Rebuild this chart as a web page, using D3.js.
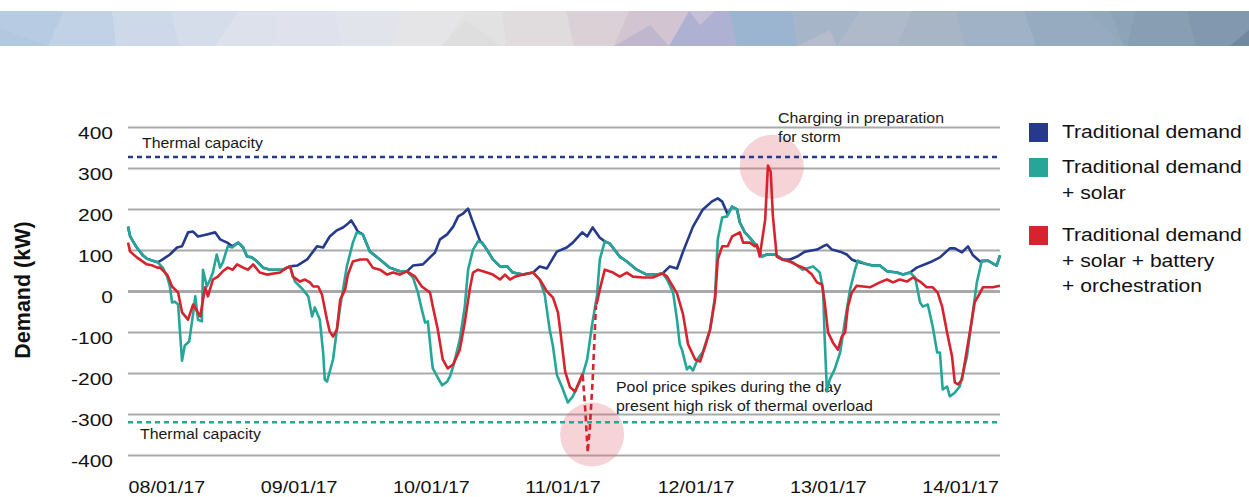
<!DOCTYPE html>
<html>
<head>
<meta charset="utf-8">
<script src="https://cdn.jsdelivr.net/npm/d3@7"></script>
<style>
  body { margin: 0; background: #fff; }
  svg { display: block; font-family: "Liberation Sans", Arial, sans-serif; }
</style>
</head>
<body>
<div id="chart"></div>
<script>
// ---------- data (hours since 08/01/17 00:00, kW) ----------
const dayLabels = ['08/01/17', '09/01/17', '10/01/17', '11/01/17', '12/01/17', '13/01/17', '14/01/17'];
const yTicks = [400, 300, 200, 100, 0, -100, -200, -300, -400];
const thermalUpper = 327;
const thermalLower = -320;
const seriesNames = [
  ['Traditional demand'],
  ['Traditional demand', '+ solar'],
  ['Traditional demand', '+ solar + battery', '+ orchestration']
];

// Traditional demand
const demand = [
  [0, 157], [0.4, 133], [0.9, 121], [1.6, 106], [2.7, 87], [3.4, 79], [4.5, 74], [5.4, 70],
  [6.3, 77], [7.6, 89], [8.9, 106], [9.8, 109], [10.9, 143], [11.8, 145], [12.7, 133], [14.3, 138],
  [15.8, 143], [16.7, 126], [18.0, 118], [18.9, 109], [20.0, 118], [20.9, 106], [21.6, 84], [22.5, 82],
  [23.4, 72], [24.5, 57], [25.8, 52], [28.1, 52], [29.4, 60],
  [30.7, 62], [32.5, 77], [34.3, 109], [35.4, 106], [36.6, 133], [37.9, 148], [39.0, 155], [39.7, 162],
  [40.5, 172], [41.2, 157], [41.7, 145], [42.6, 138], [43.9, 96], [45.7, 77], [47.5, 57], [49.3, 48], [50.6, 48],
  [51.7, 62], [53.5, 65], [55.7, 94], [56.6, 126], [57.9, 138], [59.0, 157], [59.9, 182], [60.8, 189],
  [61.7, 201], [62.4, 174], [63.9, 121], [64.2, 118], [65.1, 101], [66.2, 77], [67.5, 60], [68.8, 60],
  [69.8, 45], [71.7, 40], [73.5, 45],
  [74.7, 60], [76.0, 55], [77.8, 96], [79.6, 106], [80.7, 118], [82.4, 143], [83.3, 133], [84.3, 155],
  [85.6, 130], [86.5, 121], [87.4, 116], [89.2, 84], [90.5, 72], [92.3, 52], [94.1, 40], [96.0, 40], [97.0, 43],
  [98.3, 60], [99.6, 55], [100.7, 96], [102.5, 157], [104.3, 199], [105.9, 218], [107.0, 226], [107.8, 218],
  [108.8, 187], [109.6, 206], [110.5, 199], [111.0, 167], [111.9, 143], [112.8, 130], [114.1, 109], [115.0, 84],
  [115.9, 89], [117.4, 89], [118.8, 77], [120.1, 77], [121.4, 84], [122.8, 96], [125.0, 101], [126.1, 109],
  [126.8, 113], [127.7, 101], [129.2, 96], [130.4, 89], [131.3, 77], [132.2, 72], [134.1, 65], [135.1, 62],
  [136.4, 62], [137.7, 48], [139.5, 45], [140.6, 40], [141.9, 45],
  [143.1, 57], [145.5, 70], [147.3, 82], [149.1, 104], [150.0, 104], [151.3, 94], [152.4, 109], [153.3, 87],
  [154.6, 72], [156.0, 74], [157.6, 62], [158.2, 87]
];

// Traditional demand + solar
const demandSolar = [
  [0, 157], [0.4, 133], [0.9, 121], [1.6, 106], [2.7, 87], [3.4, 79], [4.5, 74], [5.4, 70], [6.3, 57],
  [7.1, 35], [7.6, 11], [8.0, -28], [8.5, -26], [9.1, -33], [9.4, -94], [9.8, -170], [10.3, -133],
  [11.1, -123], [11.8, -57], [12.2, -13], [12.7, -70], [13.4, -74], [13.6, 52], [14.3, 11], [14.9, 28],
  [15.4, 45], [16.1, 89], [16.7, 57], [17.2, 70], [18.1, 109], [18.9, 106], [20.0, 118], [20.9, 106],
  [21.6, 84], [22.5, 82], [23.4, 72], [24.5, 57], [25.8, 52], [28.1, 52], [29.4, 60],
  [30.3, 23], [31.2, 11], [31.7, 4], [32.7, -13], [33.4, -62], [33.9, -40], [34.8, -70], [35.4, -150],
  [35.7, -216], [36.1, -221], [37.2, -167], [37.9, -94], [38.5, -38], [39.7, 60], [40.8, 118], [41.5, 143],
  [42.6, 138], [43.9, 96], [45.7, 77], [47.5, 57], [49.3, 48], [50.6, 48],
  [51.7, 33], [52.6, -4], [53.3, -45], [53.9, -77], [54.4, -74], [55.1, -167], [55.3, -189], [56.1, -209],
  [57.0, -230], [57.9, -221], [58.4, -209], [59.0, -184], [60.2, -118], [61.1, -38], [61.7, 52], [62.6, 101],
  [63.5, 121], [64.2, 118], [65.1, 101], [66.2, 77], [67.5, 60], [68.8, 60], [69.8, 45], [71.7, 40], [73.5, 45],
  [74.7, 28], [75.6, -9], [76.5, -94], [77.1, -135], [77.8, -204], [78.7, -233], [79.8, -272], [80.7, -257],
  [82.4, -209], [83.3, -167], [84.2, -82], [85.1, -9], [85.6, 77], [86.5, 121], [87.4, 116], [89.2, 84],
  [90.5, 72], [92.3, 52], [94.1, 40], [96.0, 40], [97.0, 43],
  [97.8, 28], [98.9, -4], [99.6, -70], [100.1, -130], [100.5, -143], [101.4, -191], [101.9, -184],
  [102.5, -194], [103.4, -165], [104.3, -148], [105.6, -94], [106.5, -13], [107.0, 126], [107.8, 179],
  [108.7, 182], [109.6, 206], [110.5, 199], [111.0, 167], [111.9, 143], [112.8, 130], [114.1, 109],
  [115.0, 84], [115.9, 89], [117.4, 89], [118.8, 77], [120.6, 70], [122.4, 52], [124.3, 60], [125.5, 45],
  [126.1, 4], [126.4, -118], [126.8, -245], [127.3, -216], [128.2, -191], [129.2, -150], [130.1, -70],
  [131.0, 4], [131.9, 52], [132.4, 74], [134.1, 65], [135.1, 62], [136.4, 62], [137.7, 48], [139.5, 45],
  [140.6, 40], [141.9, 45],
  [142.8, 33], [143.7, -28], [144.2, -38], [145.1, -33], [146.0, -87], [146.8, -150], [147.3, -150],
  [147.8, -240], [148.6, -233], [149.1, -257], [150.0, -248], [150.9, -233], [152.2, -160], [153.1, -70],
  [154.0, 21], [154.9, 74], [156.0, 74], [157.6, 62], [158.2, 87]
];

// Traditional demand + solar + battery + orchestration (null = break in the line)
const demandOrch = [
  [0, 118], [0.4, 96], [1.6, 82], [3.4, 65], [4.5, 62], [5.3, 57], [5.8, 57], [7.1, 40], [8.0, 11],
  [9.1, -4], [9.8, -52], [10.9, -70], [11.8, -33], [13.1, -62], [14.0, 9], [14.5, -13], [15.4, 28],
  [16.3, 35], [17.2, 48], [18.1, 57], [19.0, 52], [19.8, 65], [20.9, 57], [21.8, 52], [22.7, 65],
  [23.9, 45], [25.2, 40], [27.6, 45], [28.8, 57], [29.4, 60],
  [29.9, 35], [31.2, 23], [32.1, 28], [33.0, 21], [33.6, 11], [34.5, 11], [35.2, -9], [36.1, -70],
  [36.6, -99], [37.2, -111], [37.9, -94], [38.5, -21], [39.4, 4], [39.9, 40], [40.8, 72], [42.1, 77],
  [43.4, 77], [44.4, 57], [45.7, 52], [47.0, 40], [48.1, 45], [49.3, 40], [50.6, 48],
  [52.1, 35], [53.3, 11], [54.8, -4], [55.3, -38], [56.2, -94], [57.1, -167], [58.0, -189], [59.0, -179],
  [60.2, -143], [61.1, -77], [62.0, 4], [62.6, 45], [63.5, 52], [65.1, 45], [66.2, 40], [67.5, 28],
  [68.4, 40], [69.3, 28], [70.2, 35], [71.7, 40], [73.5, 45],
  [74.7, 28], [76.0, -1], [77.1, -16], [78.0, -52], [78.4, -94], [79.3, -196], [80.2, -235], [81.1, -245],
  [82.4, -204], [82.5, -206], [83.5, null],
  [85.0, -33], [85.6, 4], [86.5, 52], [88.0, 45], [89.2, 35], [90.5, 45], [91.6, 35], [93.4, 33], [95.2, 33],
  [97.0, 43],
  [97.8, 35], [99.6, -6], [100.7, -57], [101.6, -130], [102.9, -167], [103.8, -172], [104.7, -135],
  [105.6, -94], [106.5, -21], [107.0, 77], [107.8, 109], [108.8, 109], [109.6, 133], [111.0, 143],
  [111.6, 118], [112.8, 118], [113.7, 109], [114.1, 113], [114.6, 84], [115.6, 174], [116.1, 306],
  [116.6, 291], [117.0, 182], [117.7, 84], [118.6, 77], [120.1, 72], [121.5, 62], [122.8, 55], [124.1, 40],
  [125.0, 21], [125.9, 16], [126.4, -28], [127.0, -101], [127.9, -126], [128.8, -143], [129.5, -111],
  [130.1, -101], [130.6, -38], [131.3, -4], [132.2, 13], [134.6, 9], [136.4, 21], [137.7, 28], [138.8, 21],
  [140.0, 28], [141.3, 23], [142.4, 33], [143.7, 23], [144.9, 9], [146.0, 9], [146.9, -4], [147.7, -38],
  [148.6, -101], [149.5, -160], [150.0, -223], [150.6, -228], [151.3, -216], [152.2, -143], [153.1, -70],
  [153.6, -28], [154.6, -4], [155.1, 9], [156.9, 9], [158.2, 13]
];

// what the orchestrated line would do under the pool price spike (dashed)
const spikeRisk = [[82.5, -206], [83.0, -298], [83.4, -394], [83.8, -330], [84.3, -216], [84.9, -35]];

// annotation bubbles [hours, kW]
const bubbles = [[116.8, 303], [84.2, -350]];

// ---------- drawing ----------
const width = 1249;
const height = 497;
const colors = ['#263a8c', '#26a699', '#d7232d'];

const t0 = new Date(2017, 0, 8);
const at = (h) => new Date(t0.getTime() + h * 3600e3);
const parseDay = d3.timeParse('%d/%m/%y');

const x = d3.scaleTime().domain([t0, at(158.2)]).range([128, 1000]);
const y = d3.scaleLinear().domain([-400, 400]).range([455, 127]);

const svg = d3.select('#chart').append('svg')
  .attr('width', width)
  .attr('height', height);

// 顶部装饰条
const bannerCols = [
  [0, 0, '#b7cce3'], [64, 48, '#c2d2e6'], [112, 116, '#cdd8e9'], [171, 179, '#d5ddeb'],
  [239, 215, '#dce1ec'], [275, 279, '#dfe2ec'], [335, 343, '#e2e4eb'], [402, 394, '#e5e5e8'],
  [466, 442, '#e2e2e3'], [502, 506, '#e0dcdd'], [566, 574, '#dbd0d5'], [629, 614, '#d2c5d1'],
  [689, 669, '#aeb1d2'], [729, 737, '#9bb4d0'], [793, 797, '#a7b5c9'], [861, 837, '#aeb9ca'],
  [912, 896, '#a8b5c4'], [956, 964, '#a0b2c6'], [1024, 1036, '#96abbf'], [1088, 1124, '#8ca4b8'],
  [1135, 1127, '#879eb3'], [1187, 1195, '#8198ae'], [1249, 1249, null]
];
const banner = svg.append('g').attr('class', 'banner');
banner.selectAll('polygon.col')
  .data(bannerCols.slice(0, -1))
  .enter()
  .append('polygon')
  .attr('class', 'col')
  .attr('points', (d, i) => {
    const n = bannerCols[i + 1];
    return `${d[0]},11 ${n[0] + 0.5},11 ${n[1] + 0.5},46 ${d[1]},46`;
  })
  .attr('fill', (d) => d[2]);
const bannerTris = [
  [[0, 28], [48, 46], [0, 46], '#b1c8df'],
  [[442, 46], [466, 20], [500, 46], '#dedede'],
  [[614, 46], [650, 25], [669, 46], '#c0b7cf'],
  [[689, 11], [715, 11], [700, 25], '#c6bfd6'],
  [[797, 46], [830, 30], [837, 46], '#b6bccb'],
  [[1088, 11], [1110, 11], [1124, 46], '#92a8bb'],
  [[1230, 46], [1249, 30], [1249, 46], '#72889f']
];
banner.selectAll('polygon.tri')
  .data(bannerTris)
  .enter()
  .append('polygon')
  .attr('class', 'tri')
  .attr('points', (d) => d.slice(0, 3).map((p) => p.join(',')).join(' '))
  .attr('fill', (d) => d[3]);

// 网格线 + y轴
const yAxis = svg.append('g')
  .attr('transform', 'translate(128,0)')
  .call(d3.axisLeft(y).tickValues(yTicks).tickSize(-872).tickFormat((d) => String(d)));
yAxis.attr('font-family', null).attr('font-size', null);
yAxis.select('.domain').remove();
yAxis.selectAll('.tick line')
  .attr('stroke', '#a9a9a9')
  .attr('stroke-width', (d) => (d === 0 ? 2.8 : 1.8));
yAxis.selectAll('.tick text')
  .attr('x', null)
  .attr('dy', null)
  .attr('transform', 'translate(-15,11) scale(1.27,1)')
  .attr('font-size', 16.5)
  .attr('fill', '#111');

// x轴标签
const xAxis = svg.append('g')
  .attr('transform', 'translate(0,493)')
  .call(d3.axisBottom(x).tickValues(dayLabels.map(parseDay)).tickSize(0).tickFormat(d3.timeFormat('%d/%m/%y')));
xAxis.attr('font-family', null).attr('font-size', null);
xAxis.select('.domain').remove();
xAxis.selectAll('.tick text')
  .attr('y', null)
  .attr('dy', null)
  .attr('text-anchor', 'start')
  .attr('transform', 'scale(1.16,1)')
  .attr('font-size', 17)
  .attr('fill', '#111');

// y轴标题
svg.append('text')
  .attr('transform', 'translate(30,290) rotate(-90)')
  .attr('text-anchor', 'middle')
  .attr('font-size', 21.5)
  .attr('font-weight', 'bold')
  .attr('fill', '#111')
  .text('Demand (kW)');

// 粉色圆
svg.append('g').selectAll('circle')
  .data(bubbles)
  .enter()
  .append('circle')
  .attr('cx', (d) => x(at(d[0])))
  .attr('cy', (d) => y(d[1]))
  .attr('r', 32)
  .attr('fill', 'rgba(226,110,122,0.3)');

// thermal capacity 虚线
[thermalUpper, thermalLower].forEach((v, i) => {
  svg.append('line')
    .attr('x1', 128).attr('x2', 1000)
    .attr('y1', y(v)).attr('y2', y(v))
    .attr('stroke', colors[i])
    .attr('stroke-width', 2.5)
    .attr('stroke-dasharray', '5,4');
});

function label(str, px, py, size, k, fill) {
  return svg.append('text')
    .attr('transform', `translate(${px},${py}) scale(${k},1)`)
    .attr('font-size', size)
    .attr('fill', fill || '#1a1a1a')
    .text(str);
}
label('Thermal capacity', 142, 147.5, 15, 1.06);
label('Thermal capacity', 140, 438.5, 15, 1.06);
label('Charging in preparation', 778, 123, 15, 1.06);
label('for storm', 778, 141.5, 15, 1.06);
label('Pool price spikes during the day', 616, 392, 15, 1.06);
label('present high risk of thermal overload', 616, 410.5, 15, 1.06);

// 折线
const line = d3.line()
  .defined((d) => d[1] !== null)
  .x((d) => x(at(d[0])))
  .y((d) => y(d[1]))
  .curve(d3.curveLinear);

[demand, demandSolar, demandOrch].forEach((s, i) => {
  svg.append('path')
    .datum(s)
    .attr('fill', 'none')
    .attr('stroke', colors[i])
    .attr('stroke-width', 2.6)
    .attr('stroke-linejoin', 'round')
    .attr('d', line);
});

svg.append('path')
  .datum(spikeRisk)
  .attr('fill', 'none')
  .attr('stroke', colors[2])
  .attr('stroke-width', 2.6)
  .attr('stroke-dasharray', '6,4')
  .attr('d', line);

// 图例
const legendTop = [123, 158, 226];
const legend = svg.append('g').selectAll('g')
  .data(seriesNames)
  .enter()
  .append('g')
  .attr('transform', (d, i) => `translate(1029,${legendTop[i]})`);
legend.append('rect')
  .attr('width', 19)
  .attr('height', 19)
  .attr('fill', (d, i) => colors[i]);
legend.each(function (d) {
  d3.select(this).selectAll('text')
    .data(d)
    .enter()
    .append('text')
    .attr('transform', (t, j) => `translate(33,${15 + j * 25.5}) scale(1.14,1)`)
    .attr('font-size', 18.5)
    .attr('fill', '#111')
    .text((t) => t);
});
</script>
</body>
</html>
